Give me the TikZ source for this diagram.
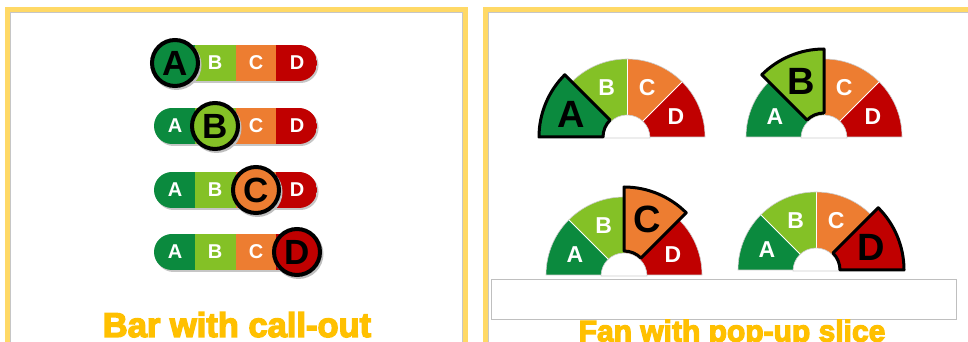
\documentclass[tikz,border=0pt]{standalone}
\usepackage{fontspec}
\setmainfont{Liberation Sans}
\newfontfamily\titlefont[FakeBold=4]{Liberation Sans Bold}
\definecolor{gradeA}{HTML}{0B8A3E}
\definecolor{gradeB}{HTML}{84C126}
\definecolor{gradeC}{HTML}{ED7D31}
\definecolor{gradeD}{HTML}{C00000}
\definecolor{frameyellow}{HTML}{FFD966}
\definecolor{titlegold}{HTML}{FFC000}
\tikzset{
	panelframe/.style={draw=frameyellow, line width=5pt},
	panelshade/.style={draw=gray!45, line width=0.8pt},
	smallltr/.style={text=white, font=\fontsize{20}{20}\selectfont\bfseries, inner sep=0pt},
	fanltr/.style={text=white, font=\fontsize{23}{23}\selectfont\bfseries, inner sep=0pt},
	bigltr/.style={text=black, font=\fontsize{35}{35}\selectfont\bfseries, inner sep=0pt},
	callout/.style={draw=black, line width=4pt},
	popslice/.style={draw=black, line width=3pt, line join=round},
	hub/.style={fill=white, draw=gray!40, line width=0.6pt},
	paneltitle/.style={text=titlegold, anchor=base, inner sep=0pt},
}
\begin{document}
\begin{tikzpicture}[x=1pt,y=1pt]
		\useasboundingbox (0,0) rectangle (968,342);
		\clip (0,0) rectangle (968,342);
		%Frames of the two panels
		\draw[panelframe] (7.5,332.5) rectangle (465.5,-40);
		\draw[panelshade] (10.4,329.6) rectangle (462.6,-40);
		\draw[panelframe] (485.5,332.5) rectangle (1010,-40);
		\draw[panelshade] (488.4,329.6) rectangle (1010,-40);
		%Bars with call-out
		\foreach \row/\yc/\cx/\sl/\sc in {1/279/175/A/gradeA, 2/216/215/B/gradeB, 3/152/256/C/gradeC, 4/90/297/D/gradeD}{
			\begin{scope}[shift={(0,\yc)}]
				\fill[gray!45, rounded corners=18pt] (155.5,-20) rectangle (318.5,16.5);
				\begin{scope}
					\clip[rounded corners=18pt] (154,-18) rectangle (317,18);
					\fill[gradeA] (154,-18) rectangle (195,18);
					\fill[gradeB] (195,-18) rectangle (236,18);
					\fill[gradeC] (236,-18) rectangle (276,18);
					\fill[gradeD] (276,-18) rectangle (317,18);
				\end{scope}
				\foreach \i/\ltr/\lx in {1/A/175, 2/B/215, 3/C/256, 4/D/297}{
					\ifnum\i=\row \else
					\node[smallltr] (bar\row\ltr) at (\lx,0) {\ltr};
					\fi
				}
				\fill[gray!50] (\cx+1.5,-2) circle (25);
				\draw[callout, fill=\sc] (\cx,0) circle (23);
				\node[bigltr] (bar\row big) at (\cx,0) {\sl};
			\end{scope}
		}
		%Fans with pop-up slice
		\foreach \g/\gx/\gy in {1/627/205, 2/824/205, 3/624/67, 4/816/72}{
			\begin{scope}[shift={(\gx,\gy)}]
				\foreach \i/\ltr/\col in {1/A/gradeA, 2/B/gradeB, 3/C/gradeC, 4/D/gradeD}{
					\pgfmathsetmacro\aS{225-45*\i}
					\pgfmathsetmacro\aE{180-45*\i}
					\fill[\col] (0,0) -- (\aS:78) arc[start angle=\aS, end angle=\aE, radius=78] -- cycle;
				}
				\foreach \a in {45,90,135}
					\draw[white, line width=0.8pt] (0,0) -- (\a:78);
				\draw[gray!40, line width=0.6pt] (-78,0) arc[start angle=180, end angle=0, radius=78] -- cycle;
				\filldraw[hub] (23,-1) arc[start angle=0, end angle=180, radius=23] -- cycle;
				\foreach \i/\ltr/\col in {1/A/gradeA, 2/B/gradeB, 3/C/gradeC, 4/D/gradeD}{
					\pgfmathsetmacro\aS{225-45*\i}
					\pgfmathsetmacro\aE{180-45*\i}
					\pgfmathsetmacro\aM{202.5-45*\i}
					\ifnum\i=\g
					\filldraw[fill=\col, popslice] (\aS:24) -- (\aS:88) arc[start angle=\aS, end angle=\aE, radius=88]
						-- (\aE:24) arc[start angle=\aE, end angle=\aS, radius=24] -- cycle;
					\node[bigltr, font=\fontsize{38}{38}\selectfont\bfseries] (fan\g\ltr) at (\aM:60) {\ltr};
					\else
					\node[fanltr] (fan\g\ltr) at (\aM:53) {\ltr};
					\fi
				}
			\end{scope}
		}
		%Empty box and titles
		\draw[gray!50, fill=white, line width=0.8pt] (491,63) rectangle (956,23);
		\node[paneltitle, font=\titlefont\fontsize{34.5}{34.5}\selectfont] (bartitle) at (237,5) {Bar with call-out};
		\node[paneltitle, font=\titlefont\fontsize{30}{30}\selectfont] (fantitle) at (732,0.5) {Fan with pop-up slice};
\end{tikzpicture}
\end{document}
